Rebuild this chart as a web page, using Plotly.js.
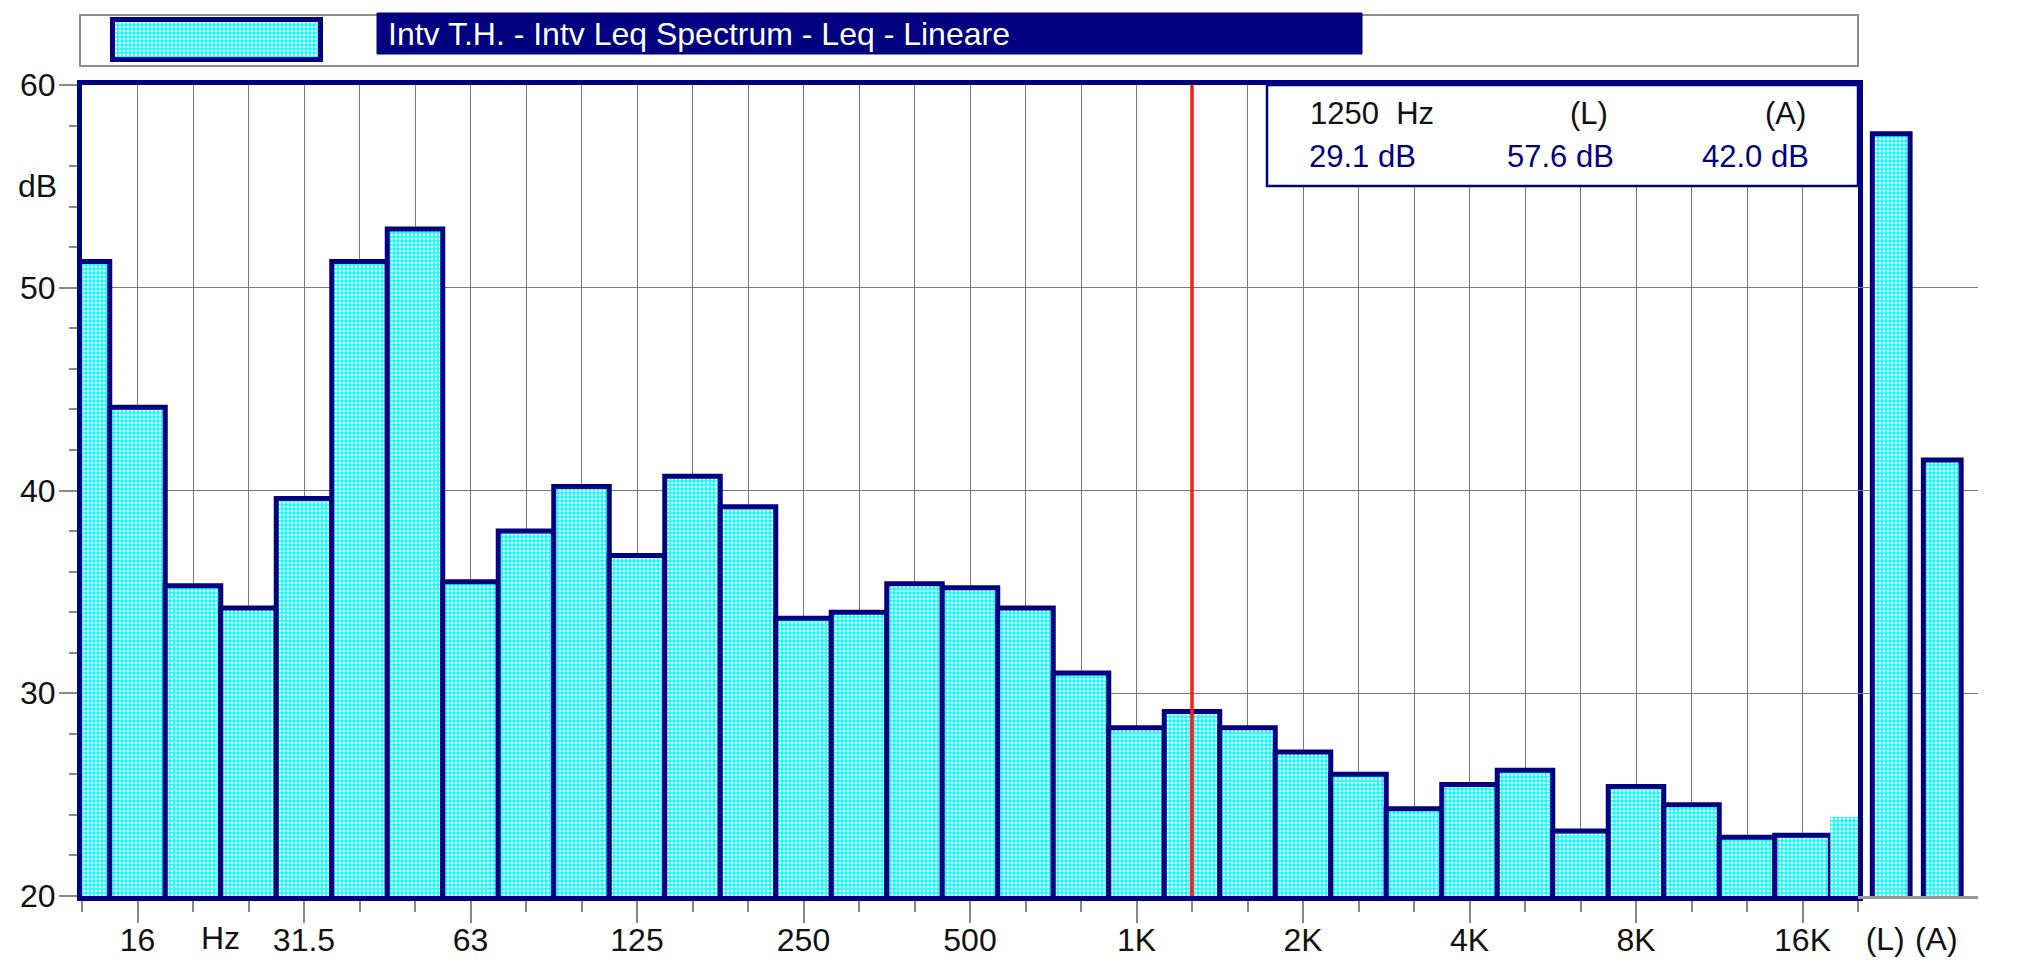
<!DOCTYPE html>
<html>
<head>
<meta charset="utf-8">
<script src="https://cdn.plot.ly/plotly-3.0.1.min.js"></script>
<style>
  html, body { margin: 0; padding: 0; background: #ffffff; }
  #chart { width: 2024px; height: 966px; }
</style>
</head>
<body>
<div id="chart"></div>
<script>
// ---- data ----
const bandLabels = ['12.5','16','20','25','31.5','40','50','63','80','100','125','160','200','250','315','400','500','630','800','1000','1250','1600','2000','2500','3150','4000','5000','6300','8000','10000','12500','16000','20000'];
const levels = [51.3,44.1,35.3,34.2,39.6,51.3,52.9,35.5,38.0,40.2,36.8,40.7,39.2,33.7,34.0,35.4,35.2,34.2,31.0,28.3,29.1,28.3,27.1,26.0,24.3,25.5,26.2,23.2,25.4,24.5,22.9,23.0,23.9];
const labelBands = ['16','31.5','63','125','250','500','1000','2000','4000','8000','16000'];
const labelTexts = ['16','31.5','63','125','250','500','1K','2K','4K','8K','16K'];
const totalLabels = ['(L)','(A)'];
const totalBars = [57.6, 41.5];
const totalTexts = [57.6, 42.0];
const selectedBand = '1250';
const seriesName = 'Intv T.H. - Intv Leq Spectrum - Leq - Lineare';

// ---- styles ----
const NAVY = '#000080';
const FONT = '"Liberation Sans", Arial, sans-serif';
const GRID = '#7a7a7a';
const pattern = {shape: '.', fgcolor: '#ffffff', bgcolor: '#00ffff', size: 4, solidity: 0.4, fillmode: 'replace'};

const idx = bandLabels.map((_, i) => i);
const selIdx = bandLabels.indexOf(selectedBand);
const lineWidths = levels.map((_, i) => i === levels.length - 1 ? 0 : 5);
const tickVals = labelBands.map(b => bandLabels.indexOf(b));
const hzPos = (bandLabels.indexOf('20') + bandLabels.indexOf('25')) / 2;

// geometry helpers (pixel -> paper)
const W = 2024, H = 966, ML = 82, MR = 46, MT = 10, MB = 70;
const PW = W - ML - MR, PH = H - MT - MB;
const px = v => (v - ML) / PW;
const py = v => (H - MB - v) / PH;
const mainRight = px(1858);

const traces = [
  {
    type: 'bar', x: idx, y: levels, xaxis: 'x', yaxis: 'y', width: 1,
    marker: {color: '#00ffff', pattern: pattern, line: {color: NAVY, width: lineWidths}},
    hoverinfo: 'skip', showlegend: false
  },
  {
    type: 'bar', x: totalLabels, y: totalBars, xaxis: 'x2', yaxis: 'y', width: 0.74,
    marker: {color: '#00ffff', pattern: pattern, line: {color: NAVY, width: 5}},
    hoverinfo: 'skip', showlegend: false
  },
  {
    type: 'bar', x: [0], y: [1], xaxis: 'x3', yaxis: 'y3', width: 1,
    marker: {color: '#00ffff', pattern: pattern, line: {color: NAVY, width: 5}},
    hoverinfo: 'skip', showlegend: false
  }
];

const tickFont = {family: FONT, size: 32, color: '#111111'};

const layout = {
  width: W, height: H,
  margin: {l: ML, r: MR, t: MT, b: MB},
  paper_bgcolor: '#ffffff', plot_bgcolor: '#ffffff',
  showlegend: false, bargap: 0,
  font: {family: FONT},
  xaxis: {
    domain: [0, mainRight], range: [0, bandLabels.length - 1], anchor: 'y',
    tickmode: 'array', tickvals: tickVals, ticktext: labelTexts,
    ticks: 'outside', ticklen: 22, tickwidth: 2, tickcolor: '#888888',
    showgrid: true, gridcolor: GRID, gridwidth: 1,
    minor: {tickmode: 'linear', tick0: 0, dtick: 1, ticks: 'outside', ticklen: 11, tickwidth: 2, tickcolor: '#888888', showgrid: true, gridcolor: GRID, gridwidth: 1},
    showline: true, linecolor: NAVY, linewidth: 5, mirror: true,
    zeroline: false, tickfont: tickFont, ticklabelstandoff: -10, fixedrange: true
  },
  yaxis: {
    domain: [0, py(85)], range: [20, 60],
    tickmode: 'linear', tick0: 20, dtick: 10,
    ticks: 'outside', ticklen: 18, tickwidth: 2, tickcolor: '#888888',
    minor: {tickmode: 'linear', tick0: 20, dtick: 2, ticks: 'outside', ticklen: 8, tickwidth: 2, tickcolor: '#888888', showgrid: false},
    showgrid: true, gridcolor: GRID, gridwidth: 1,
    showline: true, linecolor: NAVY, linewidth: 5, mirror: true,
    zeroline: false, tickfont: tickFont, ticklabelstandoff: -3, fixedrange: true
  },
  xaxis2: {
    domain: [mainRight, 1], range: [-0.65, 1.7], anchor: 'y', type: 'category',
    ticks: '', showgrid: false, showline: true, linecolor: '#999999', linewidth: 3,
    tickfont: tickFont, ticklabelshift: -6, ticklabelstandoff: 13, zeroline: false, fixedrange: true
  },
  xaxis3: {
    domain: [px(110), px(323)], range: [-0.512, 0.512], anchor: 'y3',
    visible: false, fixedrange: true
  },
  yaxis3: {
    domain: [py(62), py(17)], range: [-0.0625, 1.0625], anchor: 'x3',
    visible: false, fixedrange: true
  },
  shapes: [
    {type: 'rect', xref: 'paper', yref: 'paper', x0: px(80), x1: mainRight, y0: py(66), y1: py(15),
     line: {color: '#8c8c8c', width: 2}, fillcolor: 'rgba(0,0,0,0)', layer: 'below'},
    {type: 'rect', xref: 'paper', yref: 'paper', x0: px(377), x1: px(1362), y0: py(54), y1: py(13),
     line: {color: NAVY, width: 1}, fillcolor: NAVY},
    {type: 'line', xref: 'x', yref: 'paper', x0: selIdx, x1: selIdx, y0: 0, y1: py(85),
     line: {color: '#ff1a1a', width: 3.5}},
    {type: 'rect', xref: 'paper', yref: 'paper', x0: px(1267), x1: mainRight, y0: py(186), y1: py(85),
     line: {color: NAVY, width: 2.5}, fillcolor: '#ffffff'}
  ],
  annotations: [
    {xref: 'paper', yref: 'paper', x: px(386), y: py(34), xanchor: 'left', yanchor: 'middle',
     text: seriesName, showarrow: false, font: {family: FONT, size: 32, color: '#ffffff'}},
    {xref: 'paper', yref: 'y', x: px(37), y: 55, xanchor: 'center', yanchor: 'middle',
     text: 'dB', showarrow: false, font: {family: FONT, size: 32, color: '#111111'}},
    {xref: 'x', yref: 'paper', x: hzPos, y: py(938), xanchor: 'center', yanchor: 'middle',
     text: 'Hz', showarrow: false, font: {family: FONT, size: 32, color: '#111111'}},
    {xref: 'paper', yref: 'paper', x: px(1308), y: py(113), xanchor: 'left', yanchor: 'middle',
     text: selectedBand + '&nbsp;&nbsp;Hz', showarrow: false, font: {family: FONT, size: 31, color: '#111111'}},
    {xref: 'paper', yref: 'paper', x: px(1610), y: py(113), xanchor: 'right', yanchor: 'middle',
     text: totalLabels[0], showarrow: false, font: {family: FONT, size: 31, color: '#111111'}},
    {xref: 'paper', yref: 'paper', x: px(1808), y: py(113), xanchor: 'right', yanchor: 'middle',
     text: totalLabels[1], showarrow: false, font: {family: FONT, size: 31, color: '#111111'}},
    {xref: 'paper', yref: 'paper', x: px(1307), y: py(156), xanchor: 'left', yanchor: 'middle',
     text: levels[selIdx].toFixed(1) + ' dB', showarrow: false, font: {family: FONT, size: 31, color: NAVY}},
    {xref: 'paper', yref: 'paper', x: px(1616), y: py(156), xanchor: 'right', yanchor: 'middle',
     text: totalTexts[0].toFixed(1) + ' dB', showarrow: false, font: {family: FONT, size: 31, color: NAVY}},
    {xref: 'paper', yref: 'paper', x: px(1811), y: py(156), xanchor: 'right', yanchor: 'middle',
     text: totalTexts[1].toFixed(1) + ' dB', showarrow: false, font: {family: FONT, size: 31, color: NAVY}}
  ]
};

Plotly.newPlot('chart', traces, layout, {displayModeBar: false, staticPlot: true});
</script>
</body>
</html>
